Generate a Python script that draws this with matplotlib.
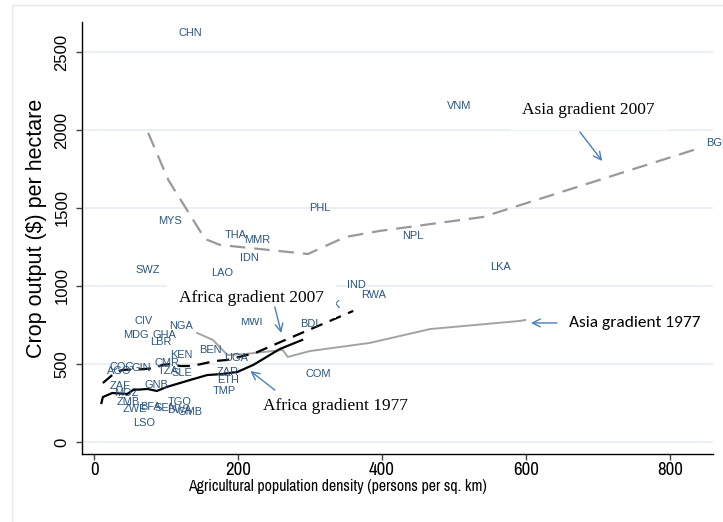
import matplotlib
matplotlib.use("Agg")
import matplotlib.pyplot as plt
from matplotlib.patches import Rectangle

# ---------------- data ----------------
countries = ["CHN", "VNM", "BGD", "PHL", "MYS", "THA", "MMR", "IDN", "NPL", "LKA",
             "SWZ", "LAO", "IND", "RWA", "PAK", "CIV", "NGA", "MWI", "BDI", "MDG",
             "GHA", "LBR", "BEN", "KEN", "UGA", "CMR", "TZA", "SLE", "GIN", "COG",
             "AGO", "ZAR", "ETH", "TMP", "COM", "ZAF", "GNB", "MOZ", "ZMB", "ZWE",
             "BFA", "SEN", "TGO", "BWA", "GMB", "LSO"]
density = [133, 507, 867, 314, 106, 197, 226, 215, 443, 564,
           74, 178, 364, 389, 327, 68, 121, 219, 299, 58,
           97, 93, 161, 121, 197, 101, 103, 122, 65, 39,
           35, 185, 186, 181, 311, 36, 86, 44, 47, 57,
           78, 99, 119, 119, 133, 69]
output = [2622, 2154, 1917, 1500, 1417, 1327, 1295, 1179, 1321, 1122,
          1103, 1083, 1006, 942, 878, 776, 744, 769, 756, 686,
          686, 641, 590, 558, 538, 506, 455, 442, 474, 481,
          455, 449, 397, 327, 436, 359, 365, 314, 256, 212,
          224, 218, 256, 205, 192, 122]

asia2007_x = [75, 103, 154, 175, 297, 349, 397, 540, 842]
asia2007_y = [1981, 1679, 1301, 1263, 1205, 1314, 1353, 1442, 1885]

asia1977_x = [143, 165, 185, 210, 262, 269, 300, 383, 467, 592, 599]
asia1977_y = [699, 654, 558, 564, 590, 545, 583, 635, 724, 776, 782]

africa2007_x = [12, 25, 39, 71, 85, 94, 108, 119, 136, 168, 185, 224, 262, 360]
africa2007_y = [378, 429, 462, 468, 474, 494, 500, 487, 487, 519, 526, 571, 647, 840]

africa1977_x = [10, 12, 25, 46, 54, 74, 87, 101, 133, 157, 179, 199, 221, 258, 289]
africa1977_y = [250, 288, 314, 308, 333, 340, 327, 353, 397, 429, 436, 449, 494, 596, 654]

xticks = [0, 200, 400, 600, 800]
yticks = [0, 500, 1000, 1500, 2000, 2500]
xlabel = "Agricultural population density (persons per sq. km)"
ylabel = "Crop output ($) per hectare"

# ---------------- figure ----------------
W, H = 723, 522
fig = plt.figure(figsize=(W / 100, H / 100), dpi=100)
fig.patch.set_facecolor("white")

# outer graph-region border
fig.patches.append(Rectangle((12 / W, -0.05), 1.2, (H - 5) / H + 0.05,
                             transform=fig.transFigure, fill=False,
                             edgecolor="#e3ebee", lw=1.0, zorder=0))

L, R, T, B = 82, 713, 22, 454
ax = fig.add_axes([L / W, 1 - B / H, (R - L) / W, (B - T) / H])
ax.set_xlim(-17, 860)
ax.set_ylim(-77, 2692)

for s in ["top", "right"]:
    ax.spines[s].set_visible(False)
for s in ["left", "bottom"]:
    ax.spines[s].set_color("black")
    ax.spines[s].set_linewidth(1.0)

narrow = ["Archivo Narrow", "Liberation Sans"]
ax.set_xticks(xticks)
ax.set_yticks(yticks)
ax.set_xticklabels([str(v) for v in xticks], fontsize=13.5, family=narrow)
ax.set_yticklabels([str(v) for v in yticks], fontsize=12, family="Liberation Sans",
                   rotation=90, va="center")
ax.tick_params(axis="both", length=4, width=1, color="#444444")
ax.tick_params(axis="x", pad=2)
ax.tick_params(axis="y", pad=5)

for yv in yticks:
    ax.axhline(yv, color="#e6eef1", lw=1.2, zorder=0.5)

ax.set_xlabel(xlabel, fontsize=11.4, family=narrow)
ax.xaxis.set_label_coords((337 - L) / (R - L), -(487 - B) / (B - T), transform=ax.transAxes)
ax.xaxis.label.set_va("center")
ax.set_ylabel(ylabel, fontsize=15.5, family="Liberation Sans")
ax.yaxis.set_label_coords(-(L - 37) / (R - L), (B - 228) / (B - T))
ax.yaxis.label.set_va("center")

# lines
ax.plot(asia2007_x, asia2007_y, color="#999999", lw=1.6, dashes=(7, 4), zorder=2)
ax.plot(asia1977_x, asia1977_y, color="#a3a3a3", lw=1.4, zorder=2)
ax.plot(africa2007_x, africa2007_y, color="black", lw=1.6, dashes=(5.5, 3.5), zorder=3)
ax.plot(africa1977_x, africa1977_y, color="black", lw=1.6, zorder=3)

# country labels
lab_col = "#2b5580"
for name, xv, yv in zip(countries, density, output):
    ax.text(xv, yv, name, fontsize=7.9, color=lab_col, ha="center", va="center",
            family="Liberation Sans", zorder=4, clip_on=False)

# annotations
serif = ["Liberation Serif", "DejaVu Serif"]
box = dict(boxstyle="square,pad=0.7", facecolor="white", edgecolor="none")
ax.text(687, 2128, "Asia gradient 2007", fontsize=12.5, family=serif,
        ha="center", va="center", bbox=box, zorder=5)
ax.text(219, 923, "Africa gradient 2007", fontsize=12.5, family=serif,
        ha="center", va="center", bbox=box, zorder=5)
ax.text(335, 231, "Africa gradient 1977", fontsize=12.5, family=serif,
        ha="center", va="center", zorder=5)
ax.text(751, 763, "Asia gradient 1977", fontsize=12.5, family=["Carlito", "Liberation Sans"],
        ha="center", va="center", zorder=5, clip_on=False)

arrow_col = "#4a7ebb"
arr = dict(arrowstyle="->", color=arrow_col, lw=1.0, mutation_scale=14,
           shrinkA=0, shrinkB=0)
ax.annotate("", xy=(706, 1801), xytext=(675, 1987), arrowprops=arr, zorder=6)
ax.annotate("", xy=(260, 699), xytext=(251, 865), arrowprops=arr, zorder=6)
ax.annotate("", xy=(217, 455), xytext=(251, 333), arrowprops=arr, zorder=6)
ax.annotate("", xy=(607, 763), xytext=(643, 763), arrowprops=arr, zorder=6)

fig.savefig("out.png", dpi=100, facecolor="white")
